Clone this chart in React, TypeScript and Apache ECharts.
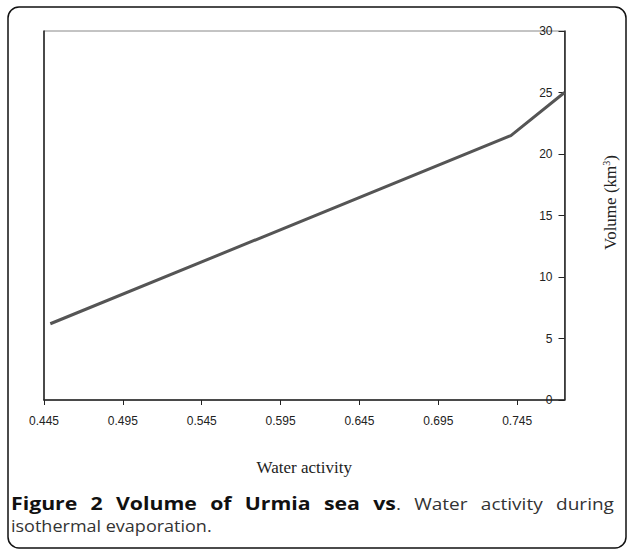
import React, { useEffect, useRef } from "react";
import * as echarts from "echarts";

const X0 = 0.445;
const waterActivity = [0.449, 0.741, 0.775];
const volume = [6.2, 21.5, 25];
const xMaxOffset = 0.33;

const captionBold = ["Figure", "2", "Volume", "of", "Urmia", "sea", "vs"];
const captionRegular = [".", "Water", "activity", "during"];
const captionLine2 = "isothermal evaporation.";

const CAP_FONT = '"Open Sans", "Noto Sans", sans-serif';
const CAP_SIZE = 17;

function measure(text: string, font: string): number {
  const c = document.createElement("canvas").getContext("2d");
  if (!c) return text.length * 9;
  c.font = font;
  return c.measureText(text).width;
}

export default function App() {
  const ref = useRef<HTMLDivElement>(null);
  useEffect(() => {
    const chart = echarts.init(ref.current!, null, { renderer: "svg" });

    const graphic: any[] = [
      {
        type: "rect",
        shape: { x: 8, y: 7, width: 618, height: 541, r: 11 },
        style: { fill: "none", stroke: "#111", lineWidth: 1.5 },
        silent: true,
      },
    ];

    // justified first caption line (PDF-like stretched spacing)
    const tokens = [
      ...captionBold.map((t) => ({ t, bold: true })),
      ...captionRegular.map((t) => ({ t, bold: false })),
    ];
    const BOLD_STRETCH = 1.25;
    const REG_STRETCH = 1.12;
    const fontOf = (b: boolean) =>
      b ? `bold ${CAP_SIZE}px ${CAP_FONT}` : `${CAP_SIZE}px ${CAP_FONT}`;
    const widths = tokens.map(
      (k) => measure(k.t, fontOf(k.bold)) * (k.bold ? BOLD_STRETCH : REG_STRETCH)
    );
    const left = 11;
    const right = 614;
    const gapCount = tokens.length - 2; // no gap between "vs" and "."
    const total = widths.reduce((a, b) => a + b, 0);
    const gap = (right - left - total) / gapCount;
    let cx = left;
    tokens.forEach((k, i) => {
      graphic.push({
        type: "text",
        x: cx,
        y: 503,
        scaleX: k.bold ? BOLD_STRETCH : REG_STRETCH,
        style: {
          text: k.t,
          fontFamily: CAP_FONT,
          fontSize: CAP_SIZE,
          fontWeight: k.bold ? "bold" : "normal",
          fill: k.bold ? "#111" : "#333",
          textVerticalAlign: "middle",
        },
      });
      cx += widths[i];
      if (k.t !== "vs") cx += gap;
    });
    graphic.push({
      type: "text",
      x: left,
      y: 525,
      scaleX: 1.06,
      style: {
        text: captionLine2,
        fontFamily: CAP_FONT,
        fontSize: CAP_SIZE,
        fill: "#333",
        textVerticalAlign: "middle",
      },
    });

    const serif = '"Liberation Serif", "Times New Roman", serif';
    const sans = '"Liberation Sans", Arial, sans-serif';

    chart.setOption({
      animation: false,
      backgroundColor: "#fff",
      grid: {
        left: 44,
        top: 31,
        right: 55,
        bottom: 149,
        show: true,
        borderColor: "#888",
        borderWidth: 1,
        backgroundColor: "transparent",
      },
      xAxis: {
        type: "value",
        min: 0,
        max: xMaxOffset,
        interval: 0.05,
        name: "Water activity",
        nameLocation: "middle",
        nameGap: 59,
        nameTextStyle: { fontFamily: serif, fontSize: 17, color: "#222" },
        axisLine: {
          show: true,
          onZero: false,
          lineStyle: { color: "#222", width: 1.5 },
        },
        axisTick: { show: true, length: 5, lineStyle: { color: "#222" } },
        axisLabel: {
          formatter: (v: number) => (v + X0).toFixed(3),
          showMaxLabel: false,
          fontFamily: sans,
          fontSize: 12,
          color: "#222",
          margin: 15,
        },
        splitLine: { show: false },
      },
      yAxis: [
        {
          type: "value",
          position: "right",
          min: 0,
          max: 30,
          interval: 5,
          name: "{a|Volume (km}{s|3}{a|)}",
          nameLocation: "middle",
          nameRotate: 90,
          nameGap: 37,
          nameTextStyle: {
            padding: [0, 0, 0, 26],
            rich: {
              a: { fontFamily: serif, fontSize: 17, color: "#222" },
              s: {
                fontFamily: serif,
                fontSize: 10,
                color: "#222",
                verticalAlign: "top",
                padding: [0, 0, 8, 0],
              },
            },
          },
          axisLine: {
            show: true,
            onZero: false,
            lineStyle: { color: "#222", width: 1.5 },
          },
          axisTick: {
            show: true,
            inside: true,
            length: 6,
            lineStyle: { color: "#222" },
          },
          axisLabel: {
            inside: true,
            margin: 12,
            fontFamily: sans,
            fontSize: 12,
            color: "#222",
          },
          splitLine: { show: false },
        },
        {
          type: "value",
          position: "left",
          min: 0,
          max: 30,
          interval: 5,
          axisLine: {
            show: true,
            onZero: false,
            lineStyle: { color: "#222", width: 1.5 },
          },
          axisTick: { show: false },
          axisLabel: { show: false },
          splitLine: { show: false },
        },
      ],
      series: [
        {
          type: "line",
          yAxisIndex: 0,
          data: waterActivity.map((a, i) => [a - X0, volume[i]]),
          symbol: "none",
          lineStyle: { color: "#555", width: 3 },
        },
      ],
      graphic,
    });
    return () => chart.dispose();
  }, []);
  return (
    <div
      ref={ref}
      style={{ position: "fixed", left: 0, top: 0, width: 627, height: 549 }}
    />
  );
}
